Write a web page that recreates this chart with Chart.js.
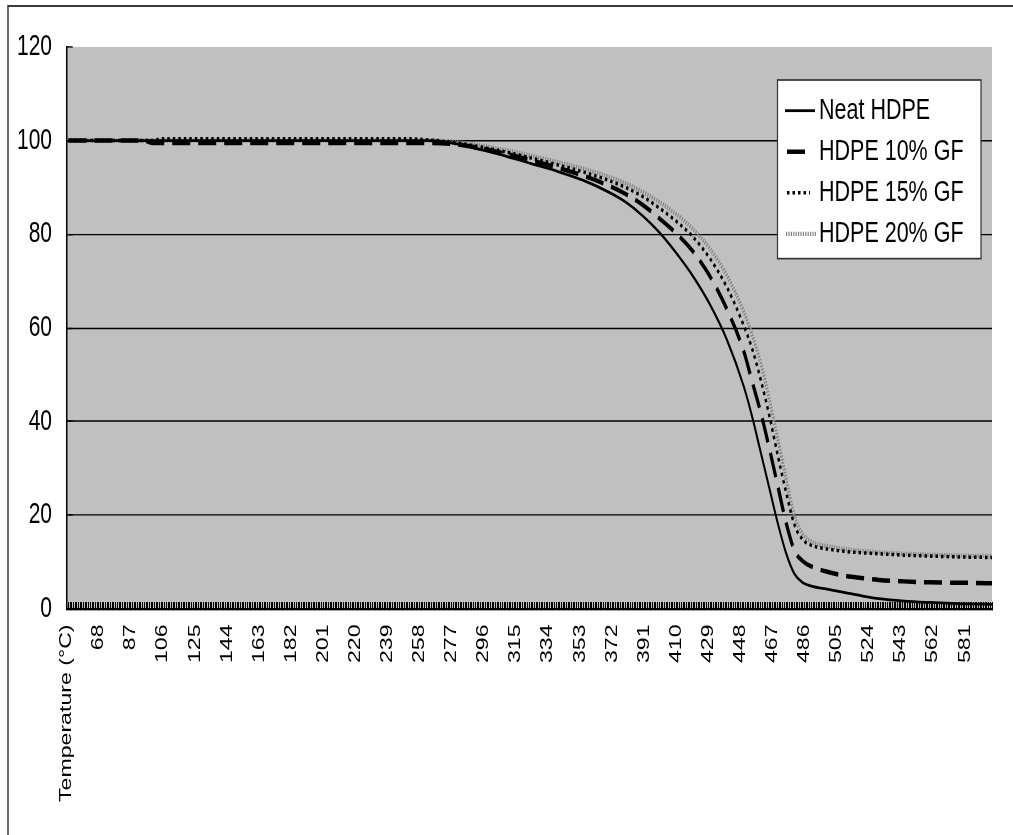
<!DOCTYPE html>
<html>
<head>
<meta charset="utf-8">
<script src="https://cdn.jsdelivr.net/npm/chart.js@4.4.1/dist/chart.umd.min.js"></script>
<style>
html,body{margin:0;padding:0;background:#fff;overflow:hidden}
canvas{display:block}
</style>
</head>
<body>
<canvas id="c" width="1013" height="596"></canvas>
<script>
// ---- data ----
const firstCategory = 'Temperature (°C)';
const firstTemp = 50;
const lastTemp = 597;
const labelStep = 19;
const yTickValues = [0, 20, 40, 60, 80, 100, 120];
const seriesNames = ['Neat HDPE', 'HDPE 10% GF', 'HDPE 15% GF', 'HDPE 20% GF'];

const tempPoints = [50, 95, 100, 105, 150, 200, 250, 265, 280, 295, 310, 325, 340, 355, 370, 380, 390, 400, 410, 420, 430, 440, 450, 455, 460, 465, 470, 475, 480, 485, 490, 500, 510, 520, 530, 545, 560, 580, 597];

const neatHDPE = [100, 100, 100, 100, 100, 100, 100, 100, 99.3, 98.0, 96.6, 95.0, 93.4, 91.5, 89.0, 86.9, 84.0, 80.4, 76.0, 71.0, 65.0, 57.5, 47.5, 41, 33.5, 26, 18.5, 12, 7.5, 5.6, 4.9, 4.2, 3.5, 2.8, 2.2, 1.7, 1.4, 1.1, 1.0];
const hdpe10GF = [100, 100, 99.5, 99.5, 99.5, 99.5, 99.5, 99.5, 99.2, 98.3, 97.1, 95.7, 94.2, 92.5, 90.4, 88.6, 86.3, 83.4, 80.2, 76.3, 71.0, 64.0, 55.0, 48.5, 42.0, 34.5, 26.5, 18.5, 12.5, 10.2, 9.1, 7.9, 7.1, 6.6, 6.2, 5.9, 5.7, 5.6, 5.5];
const hdpe15GF = [100, 100, 100, 100.4, 100.4, 100.4, 100.4, 100.1, 99.5, 98.6, 97.5, 96.2, 94.8, 93.3, 91.5, 90.0, 88.1, 85.6, 82.8, 79.4, 74.8, 68.7, 60.5, 55.5, 49.0, 41.5, 33.0, 25.0, 18.0, 14.8, 13.6, 12.8, 12.3, 12.0, 11.8, 11.5, 11.3, 11.1, 11.0];
const hdpe20GF = [100, 100, 100, 100, 100, 100, 100, 100, 99.7, 98.9, 97.9, 96.7, 95.4, 94.0, 92.3, 90.9, 89.1, 86.9, 84.3, 81.1, 76.9, 71.2, 63.5, 58.5, 52.5, 45.0, 36.5, 28.0, 20.0, 16.0, 14.4, 13.4, 12.8, 12.4, 12.1, 11.8, 11.6, 11.4, 11.3];

// category labels: header cell followed by every temperature step
const categories = [firstCategory];
for (let t = firstTemp; t <= lastTemp; t++) categories.push(String(t));

const toPoints = vals => tempPoints.map((t, i) => ({ x: String(t), y: vals[i] }));

// ---- geometry (logical, before vertical stretch) ----
const W = 1013, H = 596, FINAL_H = 835;
const S = FINAL_H / H;
const FONT = '"Liberation Sans", Arial, sans-serif';

const decor = {
  id: 'decor',
  beforeDraw(chart) {
    const { ctx, chartArea: a } = chart;
    ctx.save();
    ctx.fillStyle = '#fff';
    ctx.fillRect(0, 0, chart.width, chart.height);
    ctx.fillStyle = '#c0c0c0';
    ctx.fillRect(a.left, a.top, a.right - a.left, a.bottom - a.top);
    ctx.strokeStyle = '#3a3a3a';
    ctx.lineWidth = 1.5;
    ctx.beginPath();
    ctx.moveTo(8, chart.height + 5);
    ctx.lineTo(8, 4.3);
    ctx.lineTo(chart.width + 5, 4.3);
    ctx.stroke();
    ctx.restore();
  },
  afterDraw(chart) {
    const ctx = chart.ctx;
    const bx = 777.5, by = 57.1, bw = 203.5, bh = 127.5;
    ctx.save();
    ctx.fillStyle = '#fff';
    ctx.fillRect(bx, by, bw, bh);
    ctx.strokeStyle = '#333';
    ctx.lineWidth = 1.2;
    ctx.strokeRect(bx, by, bw, bh);
    const sx0 = [785, 787, 787, 786];
    const sx1 = [815, 807, 810, 817];
    chart.data.datasets.forEach((ds, i) => {
      const y = 79 + i * 29.3;
      ctx.strokeStyle = ds.borderColor;
      ctx.lineWidth = ds.borderWidth;
      ctx.setLineDash(ds.borderDash || []);
      ctx.beginPath();
      ctx.moveTo(sx0[i], y);
      ctx.lineTo(sx1[i], y);
      ctx.stroke();
      ctx.setLineDash([]);
      ctx.fillStyle = '#000';
      ctx.font = '21.5px ' + FONT;
      ctx.textBaseline = 'middle';
      ctx.textAlign = 'left';
      ctx.fillText(ds.label, 819, y);
    });
    ctx.restore();
  }
};

const canvas = document.getElementById('c');
const chart = new Chart(canvas.getContext('2d'), {
  type: 'line',
  data: {
    labels: categories,
    datasets: [
      { label: seriesNames[0], data: toPoints(neatHDPE), borderColor: '#000', borderWidth: 2 },
      { label: seriesNames[1], data: toPoints(hdpe10GF), borderColor: '#000', borderWidth: 3.2, borderDash: [18, 8] },
      { label: seriesNames[2], data: toPoints(hdpe15GF), borderColor: '#000', borderWidth: 2.5, borderDash: [2.5, 3] },
      { label: seriesNames[3], data: toPoints(hdpe20GF), borderColor: '#858585', borderWidth: 3, borderDash: [1.2, 1.2] }
    ]
  },
  options: {
    responsive: false,
    animation: false,
    devicePixelRatio: 1,
    events: [],
    layout: { padding: { top: 33.5, right: 21, left: 0, bottom: 0 } },
    plugins: { legend: { display: false }, tooltip: { enabled: false } },
    elements: {
      point: { radius: 0 },
      line: { cubicInterpolationMode: 'monotone', fill: false }
    },
    scales: {
      x: {
        type: 'category',
        offset: false,
        grid: { display: true, drawOnChartArea: false, drawTicks: true, tickLength: -5, tickColor: '#000', tickWidth: 1 },
        border: { display: true, color: '#000', width: 1.5 },
        ticks: {
          autoSkip: false, minRotation: 90, maxRotation: 90, padding: 16, color: '#000',
          font: { family: FONT, size: 16.5 },
          callback: (v, i) => (i % labelStep === 0 ? categories[i] : '')
        },
        afterFit: s => { s.height = H - 434.7; s.paddingLeft = 0; s.paddingRight = 0; }
      },
      y: {
        min: yTickValues[0],
        max: yTickValues[yTickValues.length - 1],
        afterBuildTicks: s => { s.ticks = yTickValues.map(v => ({ value: v })); },
        ticks: { padding: 20.7, color: '#000', font: { family: FONT, size: 21 } },
        grid: {
          color: c => (c.tick && (c.tick.value === 120 || c.tick.value === 0)) ? 'rgba(0,0,0,0)' : '#000',
          lineWidth: 1, tickLength: -6, tickColor: '#000'
        },
        border: { color: '#000', width: 1.5 },
        afterFit: s => { s.width = 66.7; s.paddingTop = 0; s.paddingBottom = 0; }
      }
    }
  },
  plugins: [decor]
});

// stretch the finished drawing vertically to the final page height
canvas.height = FINAL_H;
canvas.width = W;
canvas.style.width = W + 'px';
canvas.style.height = FINAL_H + 'px';
chart.ctx.setTransform(1, 0, 0, S, 0, 0);
chart.draw();
</script>
</body>
</html>
